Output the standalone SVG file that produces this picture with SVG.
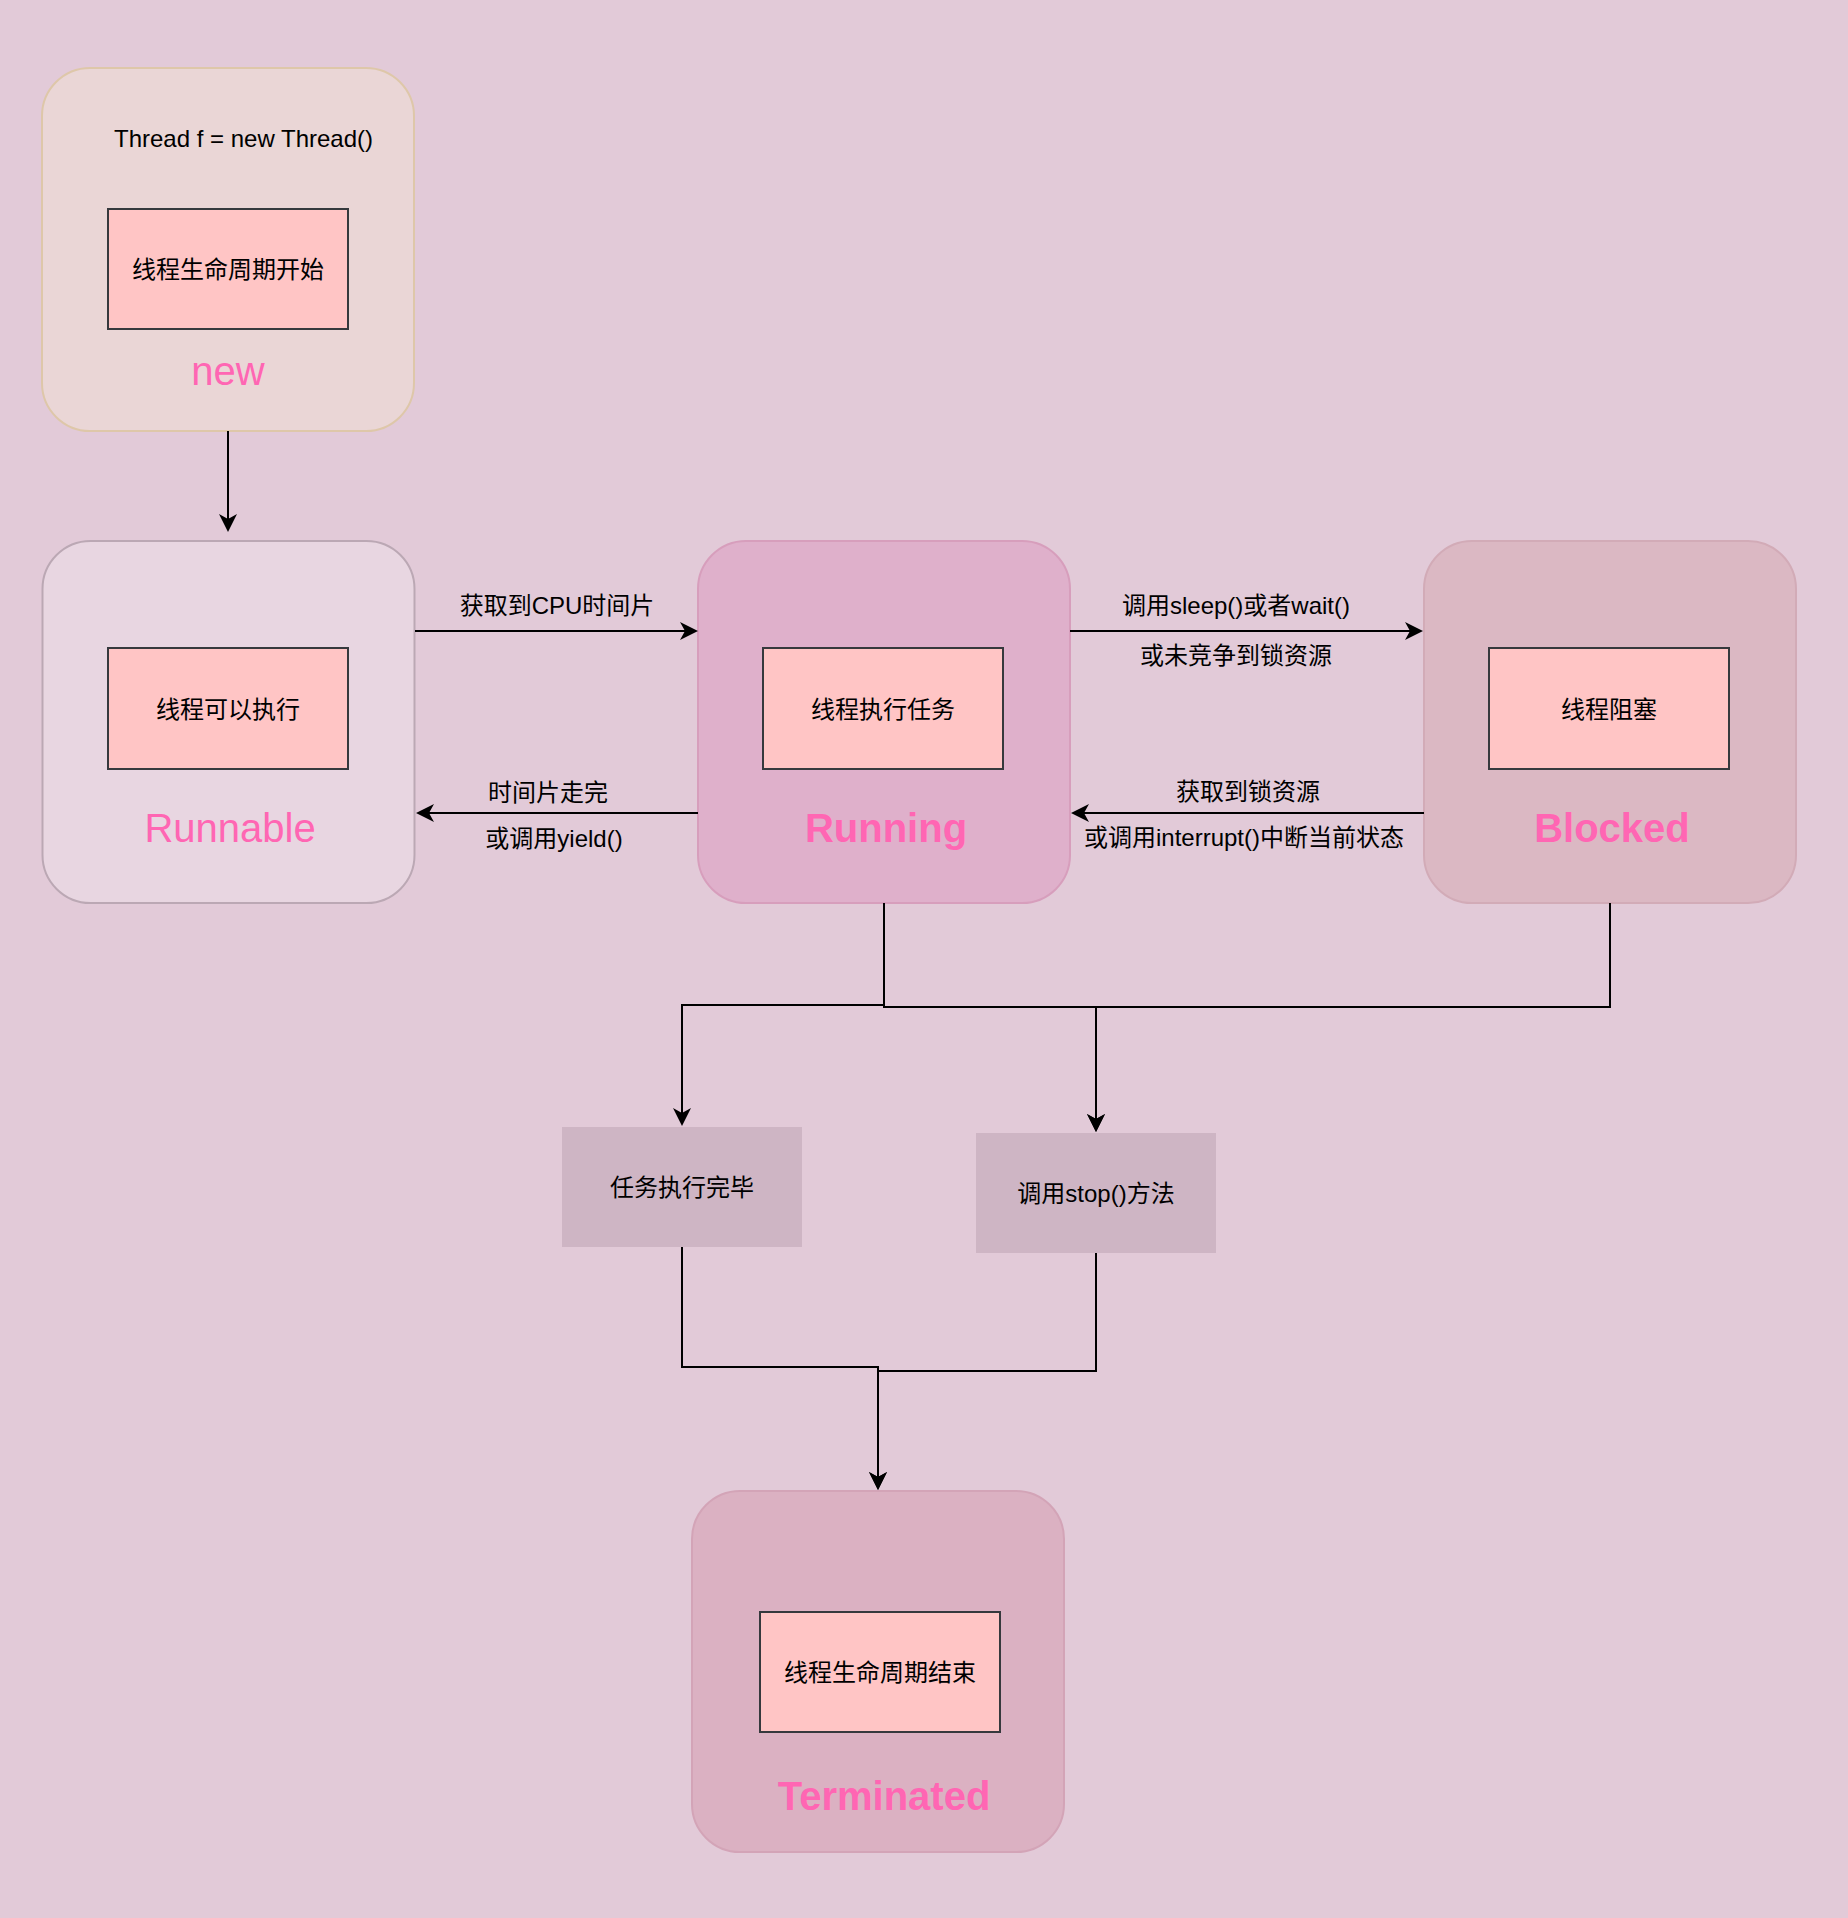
<svg xmlns="http://www.w3.org/2000/svg" width="1848" height="1918" viewBox="0 0 1848 1918">
<defs>
<style>
.state{stroke-width:2}
.inner{fill:#FFC5C5;stroke:#36393D;stroke-width:2}
.task{fill:#CEB5C4;stroke:none}
.t{font-family:"Liberation Sans","Noto Sans CJK SC",sans-serif;font-size:24px;fill:#000;text-anchor:middle;dominant-baseline:central}
.big{font-family:"Liberation Sans","Noto Sans CJK SC",sans-serif;font-size:40px;fill:#FF66B3;text-anchor:middle}
.bold{font-weight:bold}
.edge{fill:none;stroke:#000;stroke-width:2;marker-end:url(#arrow)}
.line{fill:none;stroke:#000;stroke-width:2}
</style>
<marker id="arrow" viewBox="0 0 18 18" markerWidth="18" markerHeight="18" refX="13" refY="9" orient="auto" markerUnits="userSpaceOnUse">
<path d="M0,0 L18,9 L0,18 L5,9 Z" fill="#000"/>
</marker>
</defs>
<rect x="0" y="0" width="1848" height="1918" fill="#E2CAD8"/>

<g id="new">
<rect class="state" x="42" y="68" width="372" height="363" rx="48" ry="48" fill="#EAD6D6" stroke="#DEC7A9"/>
<text class="t" x="243.5" y="138">Thread f = new Thread()</text>
<rect class="inner" x="108" y="209" width="240" height="120"/>
<text class="t" x="228" y="269">线程生命周期开始</text>
<text class="big" x="228" y="385">new</text>
</g>

<g id="runnable">
<rect class="state" x="42.5" y="541" width="372" height="362" rx="48" ry="48" fill="#E8D6E1" stroke="#BBA8B4"/>
<rect class="inner" x="108" y="648" width="240" height="121"/>
<text class="t" x="228" y="709">线程可以执行</text>
<text class="big" x="230" y="842">Runnable</text>
</g>

<g id="running">
<rect class="state" x="698" y="541" width="372" height="362" rx="48" ry="48" fill="#DFB0CB" stroke="#D79EBC"/>
<rect class="inner" x="763" y="648" width="240" height="121"/>
<text class="t" x="883" y="709">线程执行任务</text>
<text class="big bold" x="886" y="842">Running</text>
</g>

<g id="blocked">
<rect class="state" x="1424" y="541" width="372" height="362" rx="48" ry="48" fill="#DBB8C3" stroke="#D2ABB7"/>
<rect class="inner" x="1489" y="648" width="240" height="121"/>
<text class="t" x="1609" y="709">线程阻塞</text>
<text class="big bold" x="1612" y="842">Blocked</text>
</g>

<g id="task-done">
<rect class="task" x="562" y="1127" width="240" height="120"/>
<text class="t" x="682" y="1187">任务执行完毕</text>
</g>

<g id="stop">
<rect class="task" x="976" y="1133" width="240" height="120"/>
<text class="t" x="1096" y="1193">调用stop()方法</text>
</g>

<g id="terminated">
<rect class="state" x="692" y="1491" width="372" height="361" rx="48" ry="48" fill="#DBB1C2" stroke="#D3A4B7"/>
<rect class="inner" x="760" y="1612" width="240" height="120"/>
<text class="t" x="880" y="1672">线程生命周期结束</text>
<text class="big bold" x="884" y="1810">Terminated</text>
</g>

<g id="connectors">
<path class="edge" d="M228,431 V527"/>
<path class="edge" d="M415,631 H693"/>
<path class="edge" d="M698,813 H421"/>
<path class="edge" d="M1070,631 H1418"/>
<path class="edge" d="M1424,813 H1076"/>
<path class="edge" d="M884,903 V1005 H682 V1121"/>
<path class="edge" d="M884,903 V1007 H1096 V1127"/>
<path class="edge" d="M1610,903 V1007 H1096 V1127"/>
<path class="edge" d="M682,1247 V1367 H878 V1485"/>
<path class="edge" d="M1096,1253 V1371 H878 V1485"/>
<text class="t" x="557" y="605">获取到CPU时间片</text>
<text class="t" x="548" y="792">时间片走完</text>
<text class="t" x="554" y="838">或调用yield()</text>
<text class="t" x="1236" y="605">调用sleep()或者wait()</text>
<text class="t" x="1236" y="655">或未竞争到锁资源</text>
<text class="t" x="1248" y="791">获取到锁资源</text>
<text class="t" x="1244" y="837">或调用interrupt()中断当前状态</text>
</g>
</svg>
